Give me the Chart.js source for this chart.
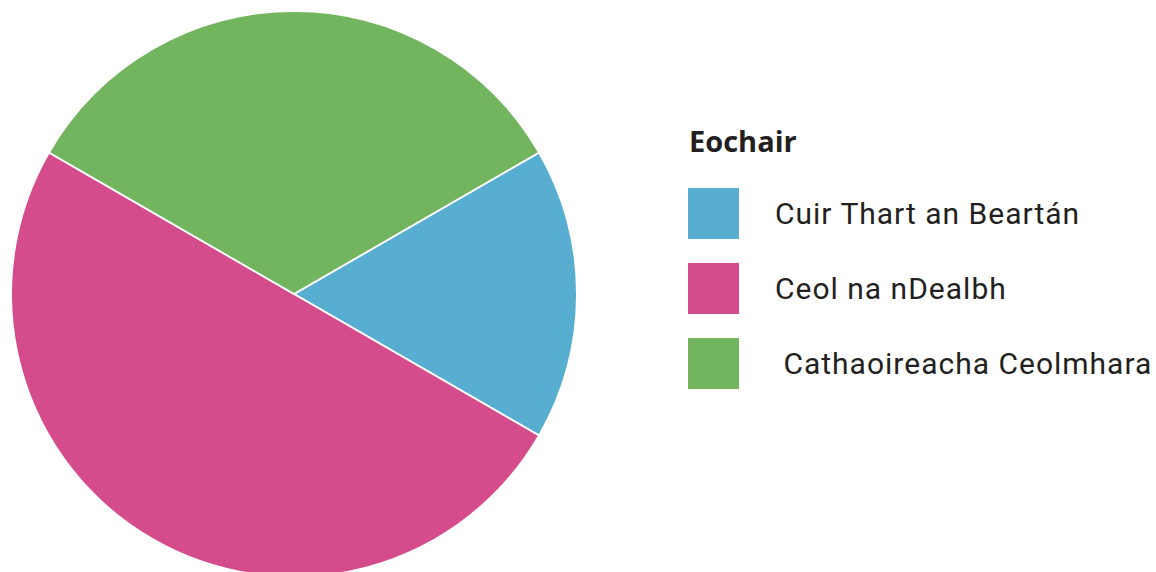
<!DOCTYPE html>
<html>
<head>
<meta charset="utf-8">
<script src="https://cdn.jsdelivr.net/npm/chart.js@4"></script>
<style>
  html, body { margin: 0; padding: 0; background: #fff; overflow: hidden; width: 1156px; height: 572px; }
  #wrap { position: absolute; left: 0; top: 0; width: 588px; height: 588px; }
  #legend { position: absolute; left: 688px; top: 122px; font-family: Roboto, sans-serif; color: #231f20; }
  #legend h3 { margin: 0 0 28px 1px; font-family: "Open Sans", sans-serif; font-size: 29px; font-weight: 700; line-height: 38px; }
  .item { display: flex; align-items: center; height: 51px; margin-bottom: 24px; }
  .swatch { width: 51px; height: 51px; margin-right: 36px; }
  .item span { font-size: 30px; letter-spacing: 1px; }
</style>
</head>
<body>
<div id="wrap"><canvas id="pie" width="588" height="588"></canvas></div>
<div id="legend"></div>
<script>
// Categories and their shares of the pie
const labels = ["Cuir Thart an Beartán", "Ceol na nDealbh", " Cathaoireacha Ceolmhara"];
const values = [1, 3, 2];
const colors = ["#58aed1", "#d54c8c", "#73b45e"];
const legendTitle = "Eochair";

// Legend on the right, built from the same arrays
const legend = document.getElementById("legend");
let html = "<h3>" + legendTitle + "</h3>";
for (let i = 0; i < labels.length; i++) {
  html += '<div class="item"><div class="swatch" style="background:' + colors[i] + '"></div>' +
          '<span style="white-space:pre">' + labels[i] + '</span></div>';
}
legend.innerHTML = html;

new Chart(document.getElementById("pie"), {
  type: "pie",
  data: {
    labels: labels,
    datasets: [{
      data: values,
      backgroundColor: colors,
      borderColor: "#ffffff",
      borderWidth: 2
    }]
  },
  options: {
    responsive: false,
    animation: false,
    rotation: 60,
    layout: { padding: 10 },
    plugins: {
      legend: { display: false },
      tooltip: { enabled: false }
    }
  }
});
</script>
</body>
</html>
